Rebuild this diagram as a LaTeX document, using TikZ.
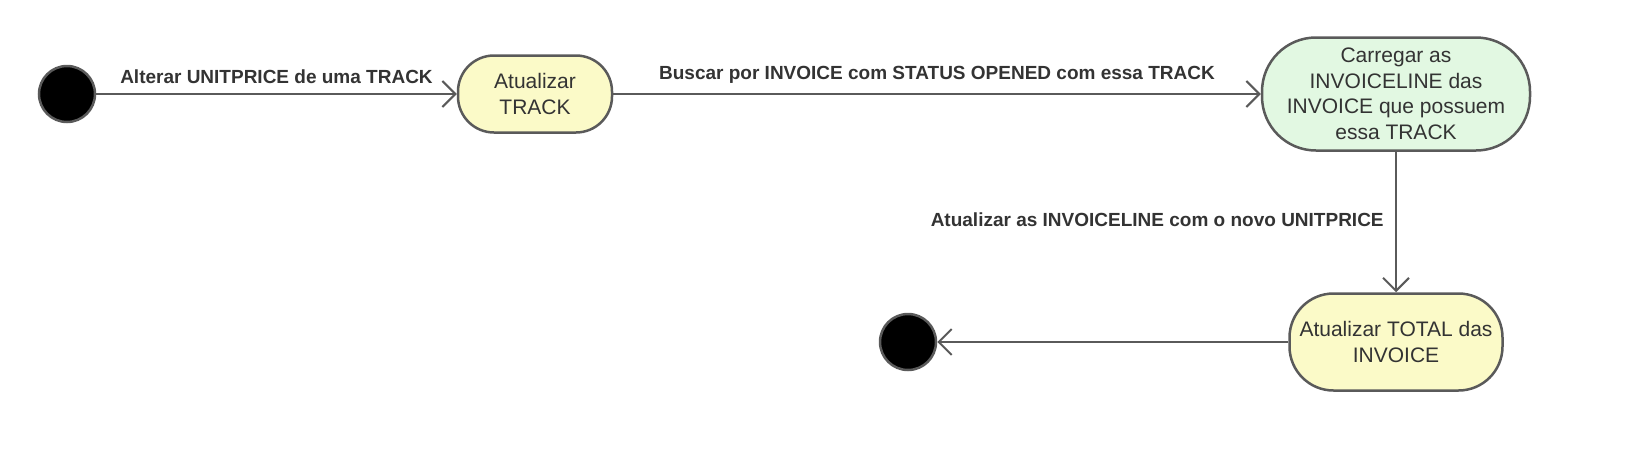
\documentclass[tikz,border=0pt]{standalone}
\usepackage{fontspec}
\setmainfont{Liberation Sans}
\usetikzlibrary{arrows.meta}
\usetikzlibrary{positioning}

\definecolor{edgegray}{HTML}{5A5A5A}
\definecolor{stateyellow}{HTML}{FBFAC8}
\definecolor{stategreen}{HTML}{E2F8E2}
\definecolor{textgray}{HTML}{333333}

\begin{document}
\begin{tikzpicture}[x=1pt,y=-1pt,every node/.style={text=textgray},
	dot/.style={circle,draw=edgegray,fill=black,line width=2.5pt,minimum size=56pt,inner sep=0pt},
	state/.style={draw=edgegray,line width=2.5pt,align=center,inner sep=0pt,font=\fontsize{21}{25.5}\selectfont},
	trans/.style={draw=edgegray,line width=2pt,-{Straight Barb[length=13pt,width=26pt,line width=2pt]}},
	lbl/.style={font=\bfseries\fontsize{19}{23}\selectfont}]
	
	\useasboundingbox (0,0) rectangle (1640,448);
	
	\node[dot] (start) at (67,94) {};
	\node[state,fill=stateyellow,rounded corners=36pt,minimum width=154pt,minimum height=77pt] (track) at (535,94) {Atualizar\\TRACK};
	\node[state,fill=stategreen,rounded corners=54pt,minimum width=268pt,minimum height=113pt] (lines) at (1396,94) {Carregar as\\INVOICELINE das\\INVOICE que possuem\\essa TRACK};
	\node[state,fill=stateyellow,rounded corners=44pt,minimum width=213pt,minimum height=97pt] (total) at (1396,342) {Atualizar TOTAL das\\INVOICE};
	\node[dot] (end) at (908,342) {};
	
	\draw[trans] (start) -- node[lbl,above=6pt] {Alterar UNITPRICE de uma TRACK} (track);
	\draw[trans] (track) -- node[lbl,above=6pt] {Buscar por INVOICE com STATUS OPENED com essa TRACK} (lines);
	\draw[trans] (lines) -- node[lbl,left=8pt,yshift=2pt] {Atualizar as INVOICELINE com o novo UNITPRICE} (total);
	\draw[trans] (total) -- (end);
	\end{tikzpicture}
\end{document}
